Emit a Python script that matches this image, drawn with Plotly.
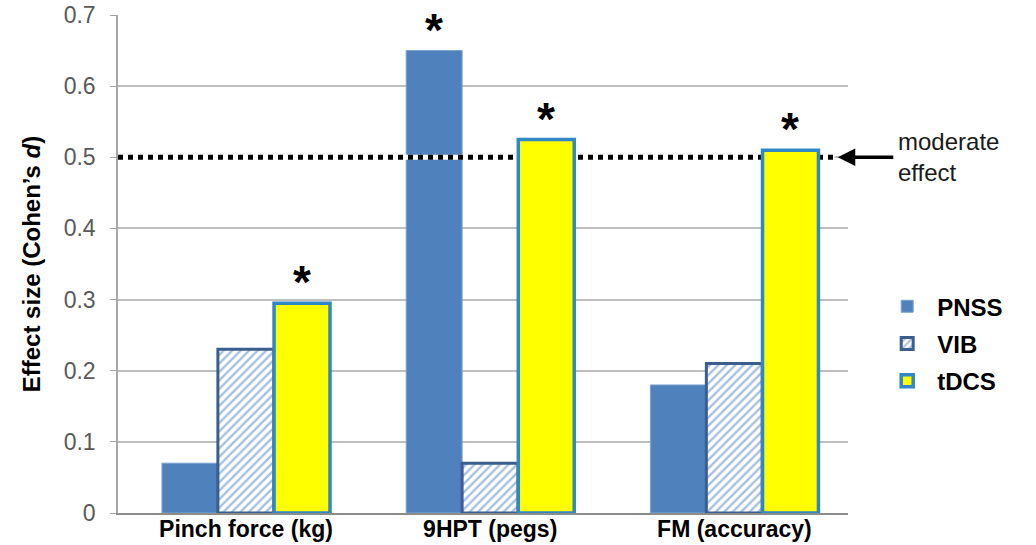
import plotly.graph_objects as go

# Effect sizes (Cohen's d) per outcome measure and intervention
categories = ["Pinch force (kg)", "9HPT (pegs)", "FM (accuracy)"]
pnss = [0.07, 0.65, 0.18]
vib = [0.23, 0.07, 0.21]
tdcs = [0.295, 0.525, 0.51]
pnss_sig = [False, True, False]
vib_sig = [False, False, False]
tdcs_sig = [True, True, True]
moderate_effect = 0.5
y_ticks = [0, 0.1, 0.2, 0.3, 0.4, 0.5, 0.6, 0.7]

FONT = "Arial, Liberation Sans, sans-serif"
x_range = [-0.524, 2.465]
bar_w = 0.229
offsets = {"PNSS": -0.344, "VIB": -0.115, "tDCS": 0.115}
xs = list(range(len(categories)))

fig = go.Figure()

fig.add_trace(go.Bar(
    name="PNSS", x=xs, y=pnss, width=bar_w, offset=offsets["PNSS"],
    marker=dict(color="#4F81BD", line=dict(color="#7DA3D1", width=1)),
    legendgroup="a", xaxis="x", yaxis="y",
))
fig.add_trace(go.Bar(
    name="VIB", x=xs, y=vib, width=bar_w, offset=offsets["VIB"],
    marker=dict(color="white", line=dict(color="#3A5F8E", width=3),
                pattern=dict(shape="/", fgcolor="#4F81BD", bgcolor="white",
                             size=6, solidity=0.4)),
    legendgroup="b", xaxis="x", yaxis="y",
))

# Reference line for a moderate effect: white backing plus black dots
line_x = [x_range[0], 2.41]
fig.add_trace(go.Scatter(
    x=line_x, y=[moderate_effect] * 2, mode="lines",
    line=dict(color="white", width=5), showlegend=False, hoverinfo="skip",
    xaxis="x", yaxis="y",
))
fig.add_trace(go.Scatter(
    x=line_x, y=[moderate_effect] * 2, mode="lines",
    line=dict(color="black", width=5, dash="5px,5px"), showlegend=False,
    hoverinfo="skip", xaxis="x", yaxis="y",
))

# tDCS bars sit on an overlaid axis so they cover the reference line
fig.add_trace(go.Bar(
    name="tDCS", x=xs, y=tdcs, width=bar_w, offset=offsets["tDCS"],
    marker=dict(color="#FFFF00", line=dict(color="#2F87C3", width=3.5)),
    legendgroup="c", xaxis="x2", yaxis="y",
))

# Significance asterisks
annotations = []
for series, vals, sig in (("PNSS", pnss, pnss_sig), ("VIB", vib, vib_sig),
                          ("tDCS", tdcs, tdcs_sig)):
    for i, (v, s) in enumerate(zip(vals, sig)):
        if s:
            annotations.append(dict(
                x=i + offsets[series] + bar_w / 2, y=v, xref="x", yref="y",
                text="<b>*</b>", showarrow=False, yanchor="bottom",
                yshift=-7, font=dict(family=FONT, size=46, color="black"),
            ))

annotations.append(dict(
    x=0.986, y=moderate_effect, xref="paper", yref="y", text="",
    showarrow=True, arrowhead=2, arrowsize=1, arrowwidth=3.5,
    arrowcolor="black", ax=57, ay=0,
))
annotations.append(dict(
    x=1.066, y=moderate_effect, xref="paper", yref="y",
    text="moderate<br>effect", showarrow=False, xanchor="left",
    yanchor="middle", align="left", yshift=0,
    font=dict(family=FONT, size=24, color="#1a1a1a"),
))

fig.update_layout(
    width=1036, height=545,
    margin=dict(l=118, r=188, t=15, b=32),
    paper_bgcolor="white", plot_bgcolor="white",
    barmode="overlay",
    font=dict(family=FONT),
    xaxis=dict(
        range=x_range, tickvals=xs,
        ticktext=[f"<b>{c}</b>" for c in categories],
        tickfont=dict(family=FONT, size=23, color="black"),
        showgrid=False, zeroline=False, showline=True,
        linecolor="#8C8C8C", linewidth=1.5, ticks="",
        ticklabelstandoff=-5, automargin=False,
    ),
    xaxis2=dict(
        overlaying="x", matches="x", range=x_range, visible=False,
    ),
    yaxis=dict(
        range=[0, 0.7], tickvals=y_ticks,
        ticktext=[f"{t:g}" for t in y_ticks],
        tickfont=dict(family=FONT, size=23, color="#595959"),
        showgrid=True, gridcolor="#BFBFBF", gridwidth=1.5,
        zeroline=False, showline=True, linecolor="#A6A6A6", linewidth=1.5,
        ticks="outside", ticklen=6, tickcolor="#A6A6A6",
        ticklabelstandoff=10, automargin=False,
        title=dict(text="<b>Effect size (Cohen’s <i>d</i>)</b>",
                   font=dict(family=FONT, size=24, color="black"),
                   standoff=16),
    ),
    legend=dict(
        x=1.04, y=0.34, xanchor="left", yanchor="middle",
        font=dict(family=FONT, size=24, color="black", weight="bold"),
        tracegroupgap=3, itemwidth=50, bgcolor="rgba(0,0,0,0)",
    ),
    annotations=annotations,
    showlegend=True,
)

fig.write_html("out.html")
